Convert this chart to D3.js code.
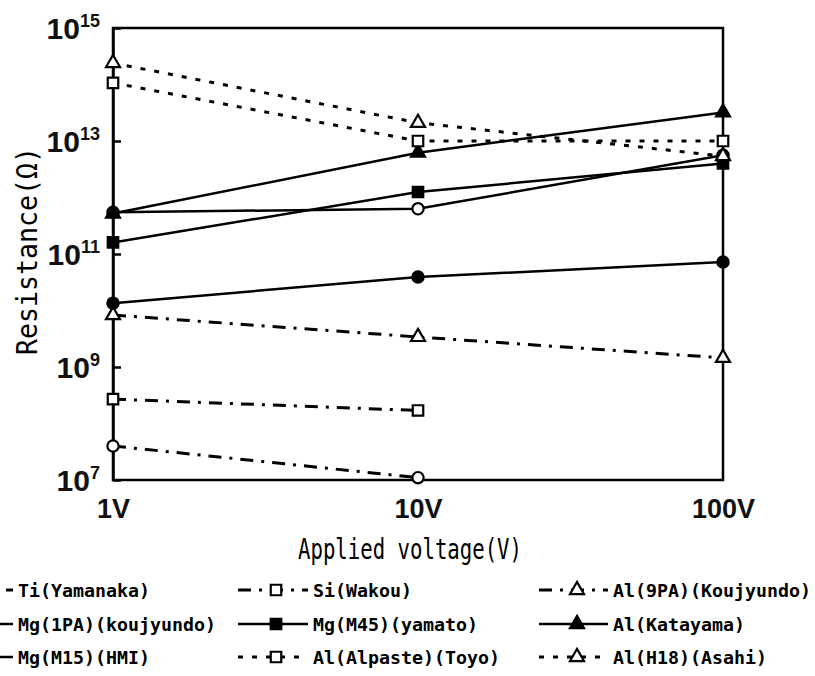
<!DOCTYPE html>
<html>
<head>
<meta charset="utf-8">
<script src="https://cdn.jsdelivr.net/npm/d3@7"></script>
<style>
  body { margin: 0; background: #fff; }
  svg { display: block; }
</style>
</head>
<body>
<svg></svg>
<script>
const width = 815;
const height = 676;
const plotLeft = 113, plotRight = 723, plotTop = 28, plotBottom = 480;

// applied voltage (V)
const voltages = [1, 10, 100];
const voltageLabels = ["1V", "10V", "100V"];
const resistanceTicks = [1e7, 1e9, 1e11, 1e13, 1e15];

// resistance (ohm)
const ti = [4.0e7, 1.1e7];
const si = [2.7e8, 1.7e8];
const al9pa = [8.3e9, 3.4e9, 1.45e9];
const mg1pa = [5.5e11, 6.3e11, 5.6e12];
const mgM45 = [1.6e11, 1.25e12, 4.0e12];
const alKatayama = [5.2e11, 6.2e12, 3.2e13];
const mgM15 = [1.35e10, 3.9e10, 7.2e10];
const alAlpaste = [1.07e14, 1.0e13, 1.0e13];
const alH18 = [2.4e14, 2.1e13, 5.4e12];

const names = ["Ti(Yamanaka)", "Si(Wakou)", "Al(9PA)(Koujyundo)",
    "Mg(1PA)(koujyundo)", "Mg(M45)(yamato)", "Al(Katayama)",
    "Mg(M15)(HMI)", "Al(Alpaste)(Toyo)", "Al(H18)(Asahi)"];
const values = [ti, si, al9pa, mg1pa, mgM45, alKatayama, mgM15, alAlpaste, alH18];
const shapes = ["circle", "square", "triangle", "circle", "square", "triangle", "circle", "square", "triangle"];
const filled = [false, false, false, false, true, true, true, false, false];
const dashes = ["dashdot", "dashdot", "dashdot", "solid", "solid", "solid", "solid", "dotted", "dotted"];

const dashArray = { solid: null, dashdot: "13 8 3 8", dotted: "5 9" };
const symbolType = { circle: d3.symbolCircle, square: d3.symbolSquare, triangle: d3.symbolTriangle };
const symbolSize = { circle: 100, square: 110, triangle: 85 };

let svg = d3.select("svg")
    .attr("width", width)
    .attr("height", height);

let x = d3.scaleLog().domain([1, 100]).range([plotLeft, plotRight]);
let y = d3.scaleLog().domain([1e7, 1e15]).range([plotBottom, plotTop]);

// рамка графика
svg.append("rect")
    .attr("x", plotLeft).attr("y", plotTop)
    .attr("width", plotRight - plotLeft).attr("height", plotBottom - plotTop)
    .attr("fill", "none").attr("stroke", "#000").attr("stroke-width", 2.5);

// ось Y, деления внутрь
let axisY = svg.append("g")
    .attr("transform", `translate(${plotLeft},0)`)
    .call(d3.axisLeft(y).tickValues(resistanceTicks).tickSize(-8).tickSizeOuter(0).tickPadding(13));
axisY.select(".domain").attr("stroke-width", 2.5);
axisY.selectAll(".tick line").attr("stroke-width", 2.5);
axisY.selectAll(".tick text")
    .attr("font-family", "'Liberation Sans', Arial, sans-serif")
    .attr("font-size", 30)
    .attr("font-weight", "bold")
    .attr("fill", "#111")
    .attr("dy", "0.36em")
    .each(function (d) {
        let t = d3.select(this).text(null);
        t.append("tspan").text("10");
        t.append("tspan").attr("dy", -12).attr("font-size", 18).text(Math.round(Math.log10(d)));
    });

// ось X
let axisX = svg.append("g")
    .attr("transform", `translate(0,${plotBottom})`)
    .call(d3.axisBottom(x).tickValues(voltages).tickSize(0).tickPadding(19)
        .tickFormat((d, i) => voltageLabels[i]));
axisX.select(".domain").remove();
axisX.selectAll(".tick text")
    .attr("font-family", "'Liberation Sans', Arial, sans-serif")
    .attr("font-size", 27)
    .attr("font-weight", "bold")
    .attr("fill", "#111");

// подписи осей
svg.append("text")
    .attr("transform", `translate(37,251) rotate(-90)`)
    .attr("text-anchor", "middle")
    .attr("font-family", "'DejaVu Sans Mono', monospace")
    .attr("font-size", 29)
    .attr("textLength", 208)
    .attr("lengthAdjust", "spacingAndGlyphs")
    .text("Resistance(Ω)");

svg.append("text")
    .attr("x", 410).attr("y", 559)
    .attr("text-anchor", "middle")
    .attr("font-family", "'DejaVu Sans Mono', monospace")
    .attr("font-size", 28)
    .attr("textLength", 224)
    .attr("lengthAdjust", "spacingAndGlyphs")
    .text("Applied voltage(V)");

let line = d3.line()
    .x((d, i) => x(voltages[i]))
    .y(d => y(d));

// линии серий
svg.selectAll(".series")
    .data(values)
    .enter()
    .append("path")
    .attr("class", "series")
    .attr("d", d => line(d))
    .attr("fill", "none")
    .attr("stroke", "#000")
    .attr("stroke-width", (d, i) => dashes[i] === "solid" ? 2.5 : 3)
    .attr("stroke-dasharray", (d, i) => dashArray[dashes[i]]);

function drawMarker(g, i, cx, cy) {
    g.append("path")
        .attr("d", d3.symbol().type(symbolType[shapes[i]]).size(symbolSize[shapes[i]])())
        .attr("transform", `translate(${cx},${cy})`)
        .attr("fill", filled[i] ? "#000" : "#fff")
        .attr("stroke", "#000")
        .attr("stroke-width", 2.2);
}

// маркеры
let markers = svg.append("g");
values.forEach((vals, i) => {
    vals.forEach((v, j) => drawMarker(markers, i, x(voltages[j]), y(v)));
});

// легенда: 3 колонки x 3 строки
const legendMarkerX = [-20, 276, 577];
const legendTextX = [18, 313, 613];
const legendRowY = [590, 624, 657];
let legend = svg.append("g");
names.forEach((name, i) => {
    let col = i % 3, row = Math.floor(i / 3);
    let mx = legendMarkerX[col], ty = legendRowY[row];
    legend.append("line")
        .attr("x1", mx - 38).attr("x2", legendTextX[col] - 5)
        .attr("y1", ty).attr("y2", ty)
        .attr("stroke", "#000")
        .attr("stroke-width", dashes[i] === "solid" ? 2.5 : 3)
        .attr("stroke-dasharray", dashArray[dashes[i]]);
    drawMarker(legend, i, mx, ty);
    legend.append("text")
        .attr("x", legendTextX[col]).attr("y", ty + 7)
        .attr("font-family", "'DejaVu Sans Mono', monospace")
        .attr("font-weight", "bold")
        .attr("font-size", 18)
        .attr("textLength", name.length * 11)
        .attr("lengthAdjust", "spacingAndGlyphs")
        .text(name);
});
</script>
</body>
</html>
